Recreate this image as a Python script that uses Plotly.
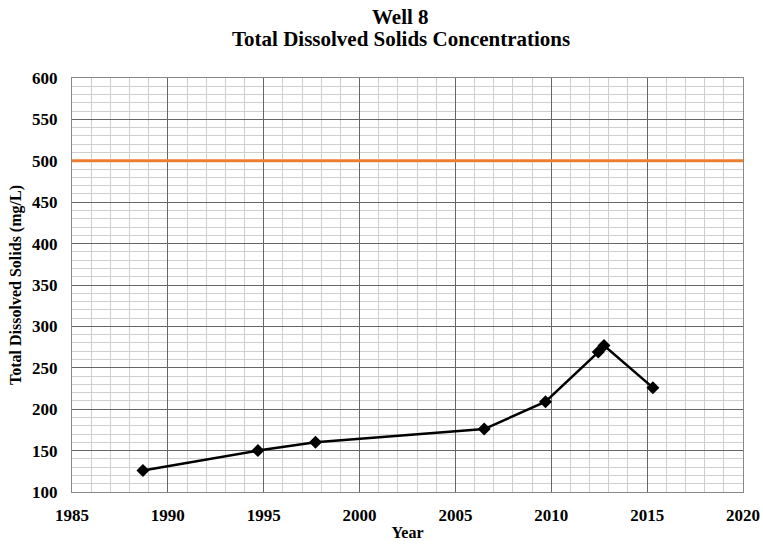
import plotly.graph_objects as go

years = [1988.7, 1994.7, 1997.7, 2006.5, 2009.7, 2012.45, 2012.75, 2015.3]
tds = [126, 150, 160, 176, 209, 269, 277, 226]
mcl_years = [1985, 2020]
mcl_vals = [500, 500]
title_lines = ["Well 8", "Total Dissolved Solids Concentrations"]

font = "Liberation Serif"
fig = go.Figure()
fig.add_trace(go.Scatter(x=mcl_years, y=mcl_vals, mode="lines",
                         line=dict(color="#ED7D31", width=3), showlegend=False))
fig.add_trace(go.Scatter(x=years, y=tds, mode="lines+markers",
                         line=dict(color="black", width=2.5),
                         marker=dict(symbol="diamond", size=10, color="black"),
                         showlegend=False))
fig.update_layout(
    width=763, height=546,
    margin=dict(l=72, r=20, t=78, b=54),
    paper_bgcolor="white", plot_bgcolor="white",
    font=dict(family=font, color="black"),
)
for yy, txt in zip([1.147, 1.094], title_lines):
    fig.add_annotation(text="<b>%s</b>" % txt, xref="paper", yref="paper",
                       x=0.49, y=yy, xanchor="center", yanchor="middle",
                       showarrow=False, font=dict(family=font, size=21, color="black"))
fig.update_xaxes(range=[1985, 2020], dtick=5, tick0=1985,
                 showgrid=True, gridcolor="#666666", gridwidth=1,
                 minor=dict(dtick=1, showgrid=True, gridcolor="#cfcfcf", gridwidth=1),
                 showline=True, linecolor="#888888", mirror=True, zeroline=False,
                 tickfont=dict(family=font, size=17, color="black"),
                 ticks="", ticklabelstandoff=8, automargin=False, ticklabeloverflow="allow",
                 title=dict(text="<b>Year</b>", font=dict(family=font, size=16), standoff=2),
                 tickprefix="<b>", ticksuffix="</b>")
fig.update_yaxes(range=[100, 600], dtick=50, tick0=100,
                 showgrid=True, gridcolor="#666666", gridwidth=1,
                 minor=dict(dtick=10, showgrid=True, gridcolor="#cfcfcf", gridwidth=1),
                 showline=True, linecolor="#888888", mirror=True, zeroline=False,
                 tickfont=dict(family=font, size=17, color="black"),
                 ticks="", ticklabelstandoff=10, automargin=False, ticklabeloverflow="allow",
                 title=dict(text="<b>Total Dissolved Solids (mg/L)</b>", font=dict(family=font, size=16), standoff=6),
                 tickprefix="<b>", ticksuffix="</b>")
fig.write_html("out.html", config={"displayModeBar": False},
               post_script="document.body.style.margin='0';document.body.style.overflow='hidden';")
